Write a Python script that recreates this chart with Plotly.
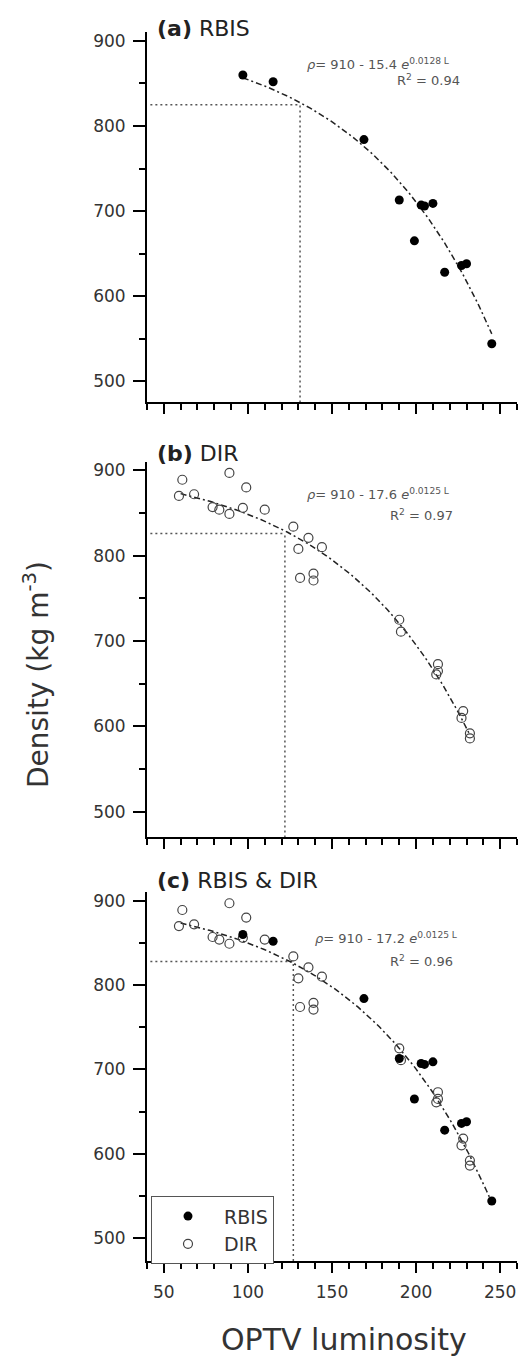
import numpy as np
import plotly.graph_objects as go

W, H = 522, 1359

# ---------------- data ----------------
rbis_L = [97, 115, 169, 190, 203, 205, 210, 199, 217, 227, 230, 245]
rbis_rho = [860, 852, 784, 713, 707, 706, 709, 665, 628, 636, 638, 544]

dir_L = [61, 89, 99, 59, 68, 79, 83, 89, 97, 110, 127, 136, 130, 144,
         131, 139, 139, 190, 191, 213, 213, 212, 228, 227, 232, 232]
dir_rho = [889, 897, 880, 870, 872, 857, 854, 849, 856, 854, 834, 821, 808, 810,
           774, 779, 771, 725, 711, 673, 665, 661, 618, 610, 592, 586]

# fit parameters: rho = 910 - A * exp(k L)
fit_base = 910
fit_A = [15.4, 17.6, 17.2]
fit_k = [0.0128, 0.0125, 0.0125]
fit_R2 = ["0.94", "0.97", "0.96"]
fit_Lrange = [(97, 245), (60, 232), (60, 245)]

# threshold (dotted) lines: luminosity, density
thr_L = [131, 122, 127]
thr_rho = [825, 826, 828]

panel_titles = ["RBIS", "DIR", "RBIS &amp; DIR"]
panel_letters = ["(a)", "(b)", "(c)"]

x_range = [40, 260]
y_ranges = [[475, 910], [470, 910], [473, 910]]

# ---------------- layout helpers ----------------
def px(x):
    return x / W

def py(y):
    return 1 - y / H

x_dom = [px(147), px(517)]
y_doms = [[py(401), py(30.5)], [py(836.7), py(460.5)], [py(1260.8), py(891.6)]]

fig = go.Figure()

ax_names = ["", "2", "3"]
for i in range(3):
    xa = "x" + ax_names[i]
    ya = "y" + ax_names[i]
    y0 = y_ranges[i][0]
    # dotted threshold lines
    fig.add_trace(go.Scatter(x=[42, thr_L[i]], y=[thr_rho[i], thr_rho[i]], mode="lines",
                             line=dict(color="#555", width=1.5, dash="2px,3px"),
                             showlegend=False, xaxis=xa, yaxis=ya, hoverinfo="skip"))
    fig.add_trace(go.Scatter(x=[thr_L[i], thr_L[i]], y=[y0, thr_rho[i]], mode="lines",
                             line=dict(color="#555", width=1.5, dash="2px,3px"),
                             showlegend=False, xaxis=xa, yaxis=ya, hoverinfo="skip"))
    # fit curve
    Lf = np.linspace(fit_Lrange[i][0], fit_Lrange[i][1], 120)
    rf = fit_base - fit_A[i] * np.exp(fit_k[i] * Lf)
    fig.add_trace(go.Scatter(x=Lf, y=rf, mode="lines",
                             line=dict(color="#222", width=1.5, dash="6px,3px,2px,3px"),
                             showlegend=False, xaxis=xa, yaxis=ya, hoverinfo="skip"))

# points
open_marker = dict(symbol="circle-open", size=9, color="#444", line=dict(width=1.2, color="#444"))
fill_marker = dict(symbol="circle", size=9, color="black")

# panel a: RBIS
fig.add_trace(go.Scatter(x=rbis_L, y=rbis_rho, mode="markers", marker=fill_marker,
                         showlegend=False, xaxis="x", yaxis="y"))
# panel b: DIR
fig.add_trace(go.Scatter(x=dir_L, y=dir_rho, mode="markers", marker=open_marker,
                         showlegend=False, xaxis="x2", yaxis="y2"))
# panel c: both
fig.add_trace(go.Scatter(x=dir_L, y=dir_rho, mode="markers", marker=open_marker,
                         name="DIR", showlegend=True, legendrank=2, xaxis="x3", yaxis="y3"))
fig.add_trace(go.Scatter(x=rbis_L, y=rbis_rho, mode="markers", marker=fill_marker,
                         name="RBIS", showlegend=True, legendrank=1, xaxis="x3", yaxis="y3"))

font_family = "DejaVu Sans"
tick_font = dict(family=font_family, size=17, color="#333")

layout = dict(
    width=W, height=H,
    margin=dict(l=0, r=0, t=0, b=0),
    paper_bgcolor="white", plot_bgcolor="white",
    font=dict(family=font_family, color="#222"),
    showlegend=True,
    legend=dict(x=px(151), y=py(1196), xanchor="left", yanchor="top",
                bordercolor="#555", borderwidth=1, bgcolor="white",
                font=dict(family=font_family, size=19, color="#333"),
                traceorder="normal", itemwidth=62, tracegroupgap=0,
                entrywidth=80),
)

for i in range(3):
    xa_key = "xaxis" + ax_names[i]
    ya_key = "yaxis" + ax_names[i]
    layout[xa_key] = dict(
        domain=x_dom, anchor="y" + ax_names[i], range=x_range,
        showline=True, linecolor="black", linewidth=2,
        ticks="outside", ticklen=10, tickwidth=1.5, tickcolor="black",
        tick0=50, dtick=50, showgrid=False, zeroline=False,
        showticklabels=(i == 2), tickfont=tick_font, ticklabelstandoff=5,
        minor=dict(dtick=10, tick0=0, ticks="outside", ticklen=6, tickwidth=1.5,
                   tickcolor="black", showgrid=False),
    )
    layout[ya_key] = dict(
        domain=y_doms[i], anchor="x" + ax_names[i], range=y_ranges[i],
        showline=True, linecolor="black", linewidth=2,
        ticks="outside", ticklen=12, tickwidth=1.5, tickcolor="black",
        tick0=500, dtick=100, showgrid=False, zeroline=False,
        tickfont=tick_font, ticklabelstandoff=4,
        minor=dict(dtick=50, tick0=500, ticks="outside", ticklen=6, tickwidth=1.5,
                   tickcolor="black", showgrid=False),
    )

fig.update_layout(**layout)

annotations = []
title_pos = [(155, 27), (155, 452), (155, 880)]
eq_pos = [(305, 62), (305, 493), (313, 937)]
r2_pos = [(462, 78), (455, 514), (455, 960)]
for i in range(3):
    annotations.append(dict(
        x=px(title_pos[i][0]), y=py(title_pos[i][1]), xref="paper", yref="paper",
        xanchor="left", yanchor="middle", showarrow=False,
        text="<b>" + panel_letters[i] + "</b> " + panel_titles[i],
        font=dict(family=font_family, size=22, color="#222")))
    annotations.append(dict(
        x=px(eq_pos[i][0]), y=py(eq_pos[i][1]), xref="paper", yref="paper",
        xanchor="left", yanchor="middle", showarrow=False,
        text="<i>ρ</i>= %d - %.1f <i>e</i><sup>%s L</sup>" % (fit_base, fit_A[i], str(fit_k[i])),
        font=dict(family=font_family, size=13, color="#555")))
    annotations.append(dict(
        x=px(r2_pos[i][0]), y=py(r2_pos[i][1]), xref="paper", yref="paper",
        xanchor="right", yanchor="middle", showarrow=False,
        text="R<sup>2</sup> = " + fit_R2[i],
        font=dict(family=font_family, size=13, color="#555")))

annotations.append(dict(
    x=px(36), y=py(674), xref="paper", yref="paper", xanchor="center", yanchor="middle",
    showarrow=False, textangle=-90, text="Density (kg m<sup>-3</sup>)",
    font=dict(family=font_family, size=28, color="#333")))
annotations.append(dict(
    x=px(344), y=py(1339), xref="paper", yref="paper", xanchor="center", yanchor="middle",
    showarrow=False, text="OPTV luminosity",
    font=dict(family=font_family, size=30, color="#333")))

fig.update_layout(annotations=annotations)

fig.write_html("out.html")
